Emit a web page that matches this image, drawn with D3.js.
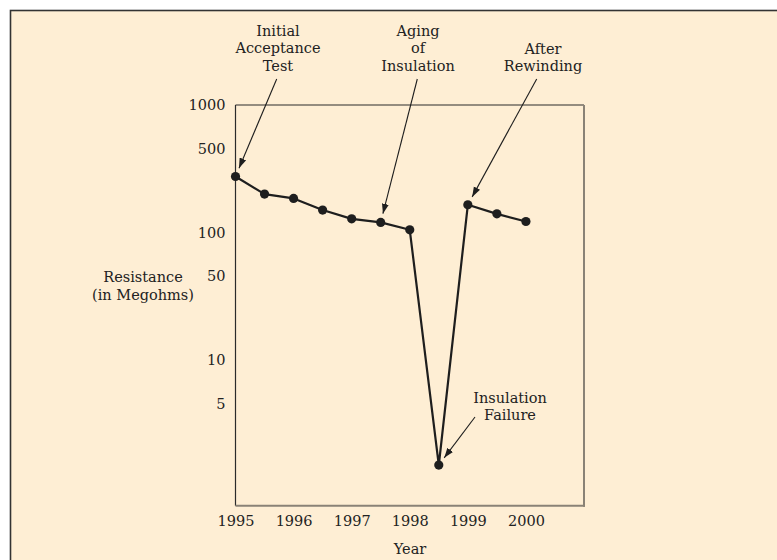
<!DOCTYPE html>
<html>
<head>
<meta charset="utf-8">
<script src="https://cdn.jsdelivr.net/npm/d3@7"></script>
<style>
  html, body { margin: 0; padding: 0; background: #ffffff; }
  svg { display: block; }
  text { font-family: "DejaVu Serif", serif; fill: #222; }
</style>
</head>
<body>
<svg id="chart" width="777" height="560"></svg>
<script>
// ---- data ----
const years = [1995, 1995.5, 1996, 1996.5, 1997, 1997.5, 1998, 1998.5, 1999, 1999.5, 2000];
const resistance = [275, 200, 185, 150, 128, 120, 105, 1.5, 165, 140, 122];
const xTickValues = [1995, 1996, 1997, 1998, 1999, 2000];
const yTickValues = [1000, 500, 100, 50, 10, 5];
const annotationLines = [
  ["Initial", "Acceptance", "Test"],
  ["Aging", "of", "Insulation"],
  ["After", "Rewinding"],
  ["Insulation", "Failure"]
];
const annotationTargets = [0, 5, 8, 7]; // index of pointed data point

// ---- layout ----
const svg = d3.select("#chart");
const box = { left: 235.5, top: 105, right: 584, bottom: 505.7 };
const x = d3.scaleLinear().domain([1995, 2001]).range([box.left, box.right]);
const y = d3.scaleLog().domain([0.72, 1000]).range([box.bottom, box.top]);

// background panel
svg.append("rect").attr("x", 10.5).attr("y", 10.5).attr("width", 800).attr("height", 600)
  .attr("fill", "#feeed4").attr("stroke", "#333").attr("stroke-width", 1.6);

// plot box: dark top/left, grey right/bottom
svg.append("line").attr("x1", box.left).attr("x2", box.right).attr("y1", box.top).attr("y2", box.top)
  .attr("stroke", "#2b2b2b").attr("stroke-width", 1);
svg.append("line").attr("x1", box.left).attr("x2", box.left).attr("y1", box.top).attr("y2", box.bottom)
  .attr("stroke", "#2b2b2b").attr("stroke-width", 1.2);
svg.append("line").attr("x1", box.right).attr("x2", box.right).attr("y1", box.top).attr("y2", box.bottom + 1)
  .attr("stroke", "#8a8276").attr("stroke-width", 2);
svg.append("line").attr("x1", box.left).attr("x2", box.right + 1).attr("y1", box.bottom).attr("y2", box.bottom)
  .attr("stroke", "#8a8276").attr("stroke-width", 2);

// axes (labels only, no ticks/domain)
const fs = 14.5;
const xAxis = d3.axisBottom(x).tickValues(xTickValues).tickFormat(d3.format("d")).tickSize(0).tickPadding(10);
const gx = svg.append("g").attr("transform", `translate(0,${box.bottom})`).call(xAxis);
gx.select(".domain").remove();
gx.selectAll("text").style("font-family", '"DejaVu Serif", serif').style("font-size", fs + "px").attr("fill", "#222");

const yAxis = d3.axisLeft(y).tickValues(yTickValues).tickFormat(d3.format("d")).tickSize(0).tickPadding(10);
const gy = svg.append("g").attr("transform", `translate(${box.left},0)`).call(yAxis);
gy.select(".domain").remove();
gy.selectAll("text").style("font-family", '"DejaVu Serif", serif').style("font-size", fs + "px").attr("fill", "#222");
// half-decade labels sit slightly lower in the original artwork
gy.selectAll(".tick").filter(d => String(d)[0] === "5").select("text")
  .attr("transform", "translate(0,5)");

// axis titles
svg.append("text").attr("x", 410).attr("y", 554).attr("text-anchor", "middle")
  .style("font-size", fs + "px").text("Year");
const yt = svg.append("text").attr("x", 143).attr("y", 282).attr("text-anchor", "middle").style("font-size", fs + "px");
yt.append("tspan").attr("x", 143).attr("dy", 0).text("Resistance");
yt.append("tspan").attr("x", 143).attr("dy", 18).text("(in Megohms)");

// data line and points
const pts = years.map((yr, i) => [yr, resistance[i]]);
svg.append("path").datum(pts)
  .attr("d", d3.line().x(d => x(d[0])).y(d => y(d[1])))
  .attr("fill", "none").attr("stroke", "#1e1e1e").attr("stroke-width", 2.2).attr("stroke-linejoin", "round");
svg.selectAll("circle.pt").data(pts).enter().append("circle").attr("class", "pt")
  .attr("cx", d => x(d[0])).attr("cy", d => y(d[1])).attr("r", 4.6).attr("fill", "#1e1e1e");

// annotations
svg.append("defs").append("marker").attr("id", "arrow").attr("viewBox", "0 0 10 10")
  .attr("refX", 10).attr("refY", 5).attr("markerWidth", 10).attr("markerHeight", 10)
  .attr("markerUnits", "userSpaceOnUse").attr("orient", "auto")
  .append("path").attr("d", "M0,1.5 L10,5 L0,8.5 Z").attr("fill", "#1e1e1e");

const annPos = [
  { cx: 278, ty: 36, from: [276.7, 79] },
  { cx: 418, ty: 36, from: [417.3, 79] },
  { cx: 543, ty: 54, from: [536.7, 79] },
  { cx: 510, ty: 403, from: [475, 417] }
];
annotationLines.forEach((lines, k) => {
  const p = annPos[k];
  const t = svg.append("text").attr("text-anchor", "middle").style("font-size", fs + "px");
  lines.forEach((s, j) => t.append("tspan").attr("x", p.cx).attr("y", p.ty + j * 17.3).text(s));
  const tx = x(years[annotationTargets[k]]), ty = y(resistance[annotationTargets[k]]);
  const dx = p.from[0] - tx, dy = p.from[1] - ty, len = Math.hypot(dx, dy);
  const gap = 9;
  svg.append("line").attr("x1", p.from[0]).attr("y1", p.from[1])
    .attr("x2", tx + dx / len * gap).attr("y2", ty + dy / len * gap)
    .attr("stroke", "#1e1e1e").attr("stroke-width", 1.1).attr("marker-end", "url(#arrow)");
});
</script>
</body>
</html>
